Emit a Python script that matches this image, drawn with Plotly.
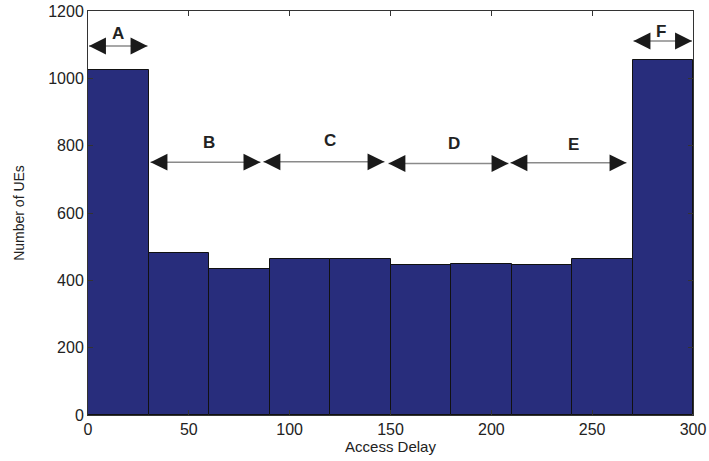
import plotly.graph_objects as go

# Histogram data
bin_left = [0, 30, 60, 90, 120, 150, 180, 210, 240, 270]
bin_width = 30
counts = [1024, 480, 433, 464, 462, 445, 448, 446, 463, 1054]

# Region annotations
region_labels = ["A", "B", "C", "D", "E", "F"]
region_x0 = [0.5, 31, 87, 149, 209.5, 270.5]
region_x1 = [29.5, 85.5, 147, 208.5, 267, 299.5]
region_y = [1096, 751, 752, 747, 749, 1111]
label_x = [15, 60, 120, 181.5, 240.5, 284]
label_y = [1133, 810, 814, 807, 802, 1138]

xticks = [0, 50, 100, 150, 200, 250, 300]
yticks = [0, 200, 400, 600, 800, 1000, 1200]

centers = [b + bin_width / 2 for b in bin_left]

fig = go.Figure()
fig.add_trace(go.Bar(
    x=centers, y=counts, width=[bin_width] * len(counts),
    marker=dict(color="#282d7c", line=dict(color="#111111", width=1)),
    showlegend=False, hoverinfo="skip",
))

shapes = []
annotations = []
for lab, x0, x1, y, lx, ly in zip(region_labels, region_x0, region_x1, region_y, label_x, label_y):
    shapes.append(dict(type="line", xref="x", yref="y", x0=x0, x1=x1, y0=y, y1=y,
                       line=dict(color="#8a8a8a", width=1.5)))
    # left head
    annotations.append(dict(x=x0, y=y, xref="x", yref="y", ax=15, ay=0, text="",
                            showarrow=True, arrowhead=2, arrowsize=2.6, arrowwidth=1.3,
                            arrowcolor="#1a1a1a"))
    # right head
    annotations.append(dict(x=x1, y=y, xref="x", yref="y", ax=-15, ay=0, text="",
                            showarrow=True, arrowhead=2, arrowsize=2.6, arrowwidth=1.3,
                            arrowcolor="#1a1a1a"))
    annotations.append(dict(x=lx, y=ly, xref="x", yref="y", text="<b>%s</b>" % lab,
                            showarrow=False,
                            font=dict(family="Liberation Sans, Arial", size=17, color="#222222")))

fig.update_layout(
    width=709, height=461,
    margin=dict(l=88, r=16, t=11, b=46),
    plot_bgcolor="white", paper_bgcolor="white",
    bargap=0,
    shapes=shapes,
    annotations=annotations,
    font=dict(family="Liberation Sans, Arial", color="#222222"),
)
fig.update_xaxes(
    range=[0, 300], tickvals=xticks, ticks="inside", ticklen=5, tickcolor="#333",
    showline=True, linecolor="#333", linewidth=1, mirror="ticks", showgrid=False, zeroline=False,
    automargin=False,
    tickfont=dict(size=16), title=dict(text="Access Delay", font=dict(size=15), standoff=2),
)
fig.update_yaxes(
    range=[0, 1200], tickvals=yticks, ticks="inside", ticklen=5, tickcolor="#333",
    showline=True, linecolor="#333", linewidth=1, mirror="ticks", showgrid=False, zeroline=False,
    automargin=False,
    tickfont=dict(size=16), title=dict(text="Number of UEs", font=dict(size=14), standoff=20),
)

fig.write_html("out.html")
